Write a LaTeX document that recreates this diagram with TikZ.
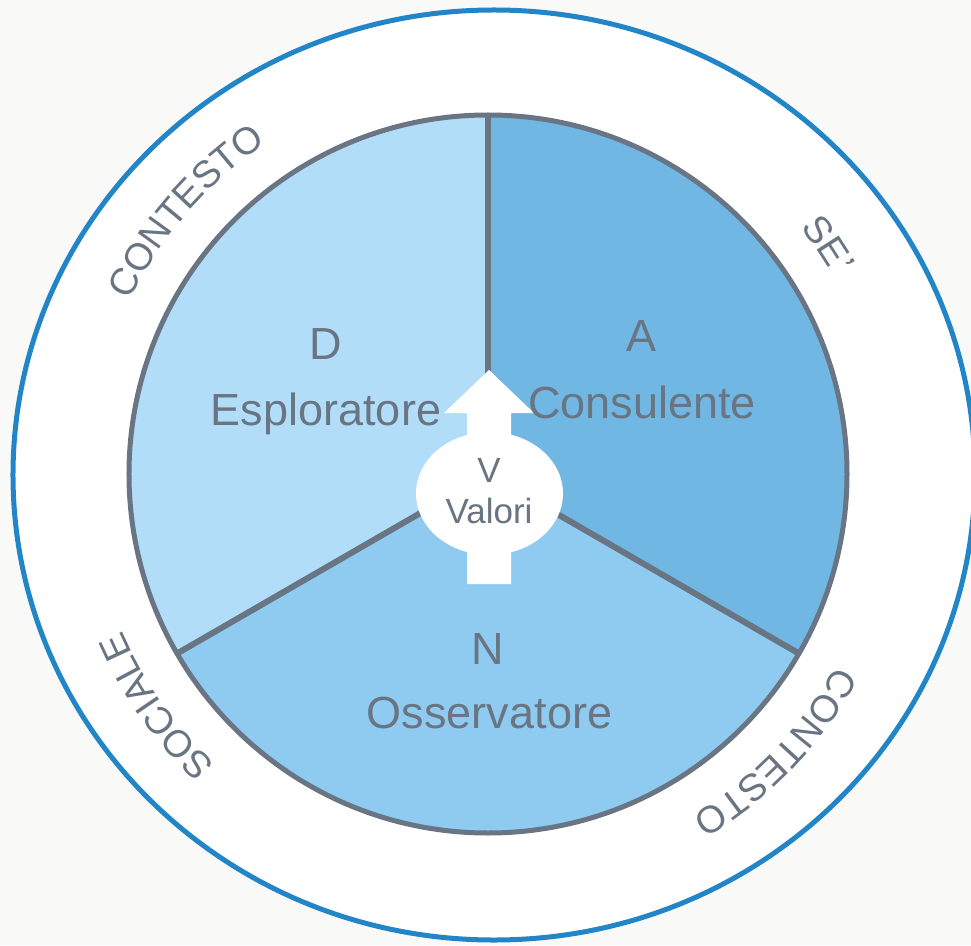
\documentclass[tikz,border=0pt]{standalone}
\usepackage{fontspec}
\setmainfont{Liberation Sans}
\usetikzlibrary{decorations.text}
\definecolor{bgc}{RGB}{249,249,248}
\definecolor{ringc}{RGB}{33,133,200}
\definecolor{edgec}{RGB}{105,117,130}
\definecolor{txtc}{RGB}{105,117,130}
\definecolor{fillD}{RGB}{177,221,249}
\definecolor{fillA}{RGB}{112,183,227}
\definecolor{fillN}{RGB}{143,202,241}
\tikzset{
  lbl/.style={anchor=base, inner sep=0pt, text=txtc, font=\fontsize{45}{50}\selectfont},
  vlbl/.style={anchor=base, inner sep=0pt, text=txtc, font=\fontsize{35}{40}\selectfont},
  divider/.style={draw=edgec, line width=6pt},
  arctext/.style={decorate, decoration={text along path, text align=center,
     text={|\fontsize{38}{42}\selectfont\color{txtc}|#1}}}
}
\begin{document}
\begin{tikzpicture}[x=1pt,y=1pt]
\useasboundingbox (-488,-471) rectangle (483,474);
\fill[bgc] (-488,-471) rectangle (483,474);
% outer ring
\draw[ringc, line width=5pt, fill=white] (6,-1) ellipse [x radius=481, y radius=465];
% centre and rim points
\coordinate (O) at (0,0);
\coordinate (P1) at (90:359);
\coordinate (P2) at (210:359);
\coordinate (P3) at (330:359);
% sectors
\fill[fillA] (O) -- (P1) arc[start angle=90, end angle=-30, radius=359] -- cycle;
\fill[fillD] (O) -- (P1) arc[start angle=90, end angle=210, radius=359] -- cycle;
\fill[fillN] (O) -- (P2) arc[start angle=210, end angle=330, radius=359] -- cycle;
\draw[divider] (O) -- (P1);
\draw[divider] (O) -- (P2);
\draw[divider] (O) -- (P3);
\draw[edgec, line width=5pt] (O) circle[radius=359];
% centre arrow and ellipse
\fill[white] (1,104) -- (46,61) -- (23,61) -- (23,-110) -- (-21,-110) -- (-21,61) -- (-44,61) -- cycle;
\fill[white] (1.5,-19.5) ellipse [x radius=73.5, y radius=61.5];
\node[vlbl] (v1) at (1,-8) {V};
\node[vlbl] (v2) at (1,-49) {Valori};
% sector labels
\node[lbl] (d1) at (-162,115) {D};
\node[lbl] (d2) at (-162,49) {Esploratore};
\node[lbl] (a1) at (154,122) {A};
\node[lbl] (a2) at (154,56) {Consulente};
\node[lbl] (n1) at (0,-190) {N};
\node[lbl] (n2) at (1.5,-254) {Osservatore};
% curved ring texts
\path[arctext={CONTESTO}] (O) ++(164:398) arc[start angle=164, end angle=114, radius=398];
\path[arctext={SE'}] (O) ++(54:398) arc[start angle=54, end angle=14, radius=398];
\path[arctext={SOCIALE}] (O) ++(240:398) arc[start angle=240, end angle=190, radius=398];
\path[arctext={CONTESTO}] (O) ++(-19:398) arc[start angle=-19, end angle=-69, radius=398];
\end{tikzpicture}
\end{document}
